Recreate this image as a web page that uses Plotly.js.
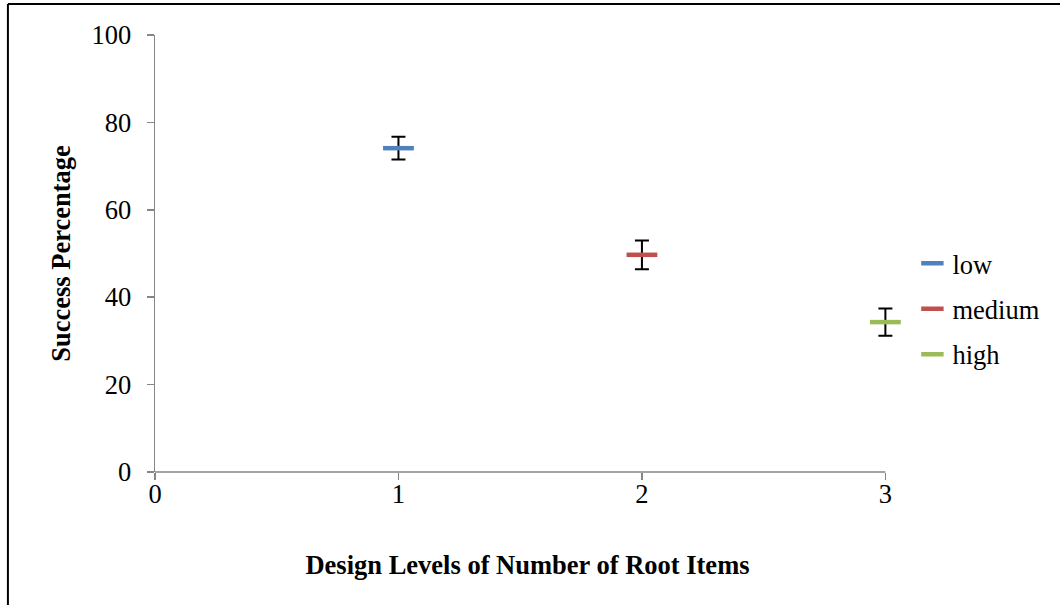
<!DOCTYPE html>
<html>
<head>
<meta charset="utf-8">
<script src="https://cdn.plot.ly/plotly-3.0.1.min.js"></script>
<style>
html,body{margin:0;padding:0;background:#fff;}
#chart{width:1060px;height:605px;}
</style>
</head>
<body>
<div id="chart"></div>
<script>
const seriesNames = ["low", "medium", "high"];
const xLevels = [1, 2, 3];
const successPct = [74.1, 49.7, 34.3];
const errPct = [2.6, 3.3, 3.1];
const seriesColors = ["#4F81BD", "#C0504D", "#9BBB59"];
const xTickVals = [0, 1, 2, 3];
const yTickVals = [0, 20, 40, 60, 80, 100];
const xMax = 3.06;

const traces = seriesNames.map((name, i) => ({
  type: "scatter",
  mode: "markers",
  name: name,
  legendgroup: name,
  cliponaxis: false,
  x: [xLevels[i]],
  y: [successPct[i]],
  marker: {symbol: "line-ew", size: 22, color: seriesColors[i],
           line: {color: seriesColors[i], width: 4.5}},
  error_y: {type: "data", array: [errPct[i]], visible: true,
            color: "#000", thickness: 2, width: 7}
}));

const font = {family: "'Liberation Serif', 'Times New Roman', serif", color: "#000"};
const fs = 26.5;
const unitPx = 730 / 3;
const plotW = unitPx * xMax;

const layout = {
  width: 1060, height: 605,
  margin: {l: 155, r: 1060 - 155 - plotW, t: 35, b: 133},
  paper_bgcolor: "#fff", plot_bgcolor: "#fff",
  font: Object.assign({size: fs}, font),
  showlegend: true,
  legend: {x: (912 - 155) / plotW, xanchor: "left", y: 0.532, yanchor: "top",
           font: Object.assign({size: fs}, font),
           traceorder: "grouped", tracegroupgap: 8, itemwidth: 30,
           bgcolor: "rgba(0,0,0,0)"},
  xaxis: {range: [0, xMax], tickvals: xTickVals, ticks: "outside", ticklen: 7,
          tickcolor: "#868686", tickwidth: 1.5, showline: false,
          showgrid: false, zeroline: false,
          ticklabelstandoff: -9,
          tickfont: Object.assign({size: fs}, font),
          title: {text: "<b>Design Levels of Number of Root Items</b>",
                  font: Object.assign({size: fs}, font), standoff: 47}},
  yaxis: {range: [0, 100], tickvals: yTickVals, ticks: "outside", ticklen: 7,
          tickcolor: "#868686", tickwidth: 1.5, showline: true, linecolor: "#868686",
          linewidth: 1.5, showgrid: false, zeroline: false,
          ticklabelstandoff: 10,
          tickfont: Object.assign({size: fs}, font),
          title: {text: "<b>Success Percentage</b>",
                  font: Object.assign({size: fs}, font), standoff: 13}},
  shapes: [
    {type: "line", xref: "x", yref: "paper", x0: 0, x1: 3, y0: 0, y1: 0,
     line: {color: "#868686", width: 1.5}},
    {type: "line", xref: "paper", yref: "paper",
     x0: (8 - 155) / plotW, x1: (1062 - 155) / plotW,
     y0: (472 - 4) / 437, y1: (472 - 4) / 437,
     line: {color: "#000", width: 2}},
    {type: "line", xref: "paper", yref: "paper",
     x0: (8 - 155) / plotW, x1: (8 - 155) / plotW,
     y0: (472 - 4) / 437, y1: (472 - 607) / 437,
     line: {color: "#000", width: 2}}
  ]
};

Plotly.newPlot("chart", traces, layout, {displayModeBar: false, staticPlot: true});
</script>
</body>
</html>
